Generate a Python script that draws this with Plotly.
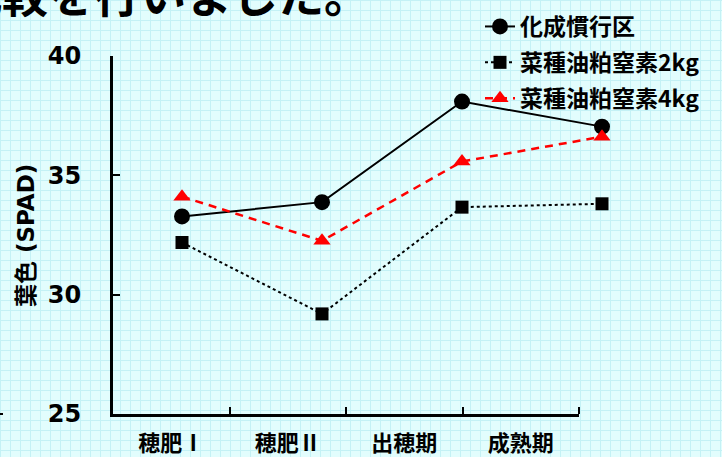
import plotly.graph_objects as go

W, H = 722, 457

stages = ["穂肥Ⅰ", "穂肥Ⅱ", "出穂期", "成熟期"]
conv = [33.27, 33.87, 38.08, 37.03]      # 化成慣行区
rape2 = [32.18, 29.19, 33.66, 33.80]     # 菜種油粕窒素2kg
rape4 = [34.10, 32.25, 35.57, 36.61]     # 菜種油粕窒素4kg
series_names = ["化成慣行区", "菜種油粕窒素2kg", "菜種油粕窒素4kg"]
y_ticks = [25, 30, 35, 40]

FONT = "Noto Sans CJK JP"

def px_x(p):
    return p / W

def px_y(p):
    return (H - p) / H

fig = go.Figure()
# invisible helper so the category-label axis is drawn
fig.add_trace(go.Scatter(x=[0, 4], y=[None, None], xaxis="x", yaxis="y",
                         mode="lines", showlegend=False, hoverinfo="skip"))
fig.add_trace(go.Scatter(
    x=stages, y=conv, name=series_names[0], xaxis="x2", yaxis="y",
    mode="lines+markers", legendgroup="a",
    line=dict(color="black", width=2),
    marker=dict(symbol="circle", size=16, color="black"),
    cliponaxis=False))
fig.add_trace(go.Scatter(
    x=stages, y=rape2, name=series_names[1], xaxis="x2", yaxis="y",
    mode="lines+markers", legendgroup="b",
    line=dict(color="black", width=2, dash="dot"),
    marker=dict(symbol="square", size=13, color="black"),
    cliponaxis=False))
fig.add_trace(go.Scatter(
    x=stages, y=rape4, name=series_names[2], xaxis="x2", yaxis="y",
    mode="lines+markers", legendgroup="c",
    line=dict(color="#ff0000", width=2.5, dash="8px,6px"),
    marker=dict(symbol="triangle-up", size=15, color="#ff0000"),
    cliponaxis=False))

# background graph-paper grid
shapes = []
for gx in range(0, W + 1, 10):
    shapes.append(dict(type="line", xref="paper", yref="paper", layer="below",
                       x0=px_x(gx + 0.5), x1=px_x(gx + 0.5), y0=0, y1=1,
                       line=dict(color="#c4f1f5", width=1)))
for gy in range(0, H + 1, 10):
    shapes.append(dict(type="line", xref="paper", yref="paper", layer="below",
                       x0=0, x1=1, y0=px_y(gy + 0.5), y1=px_y(gy + 0.5),
                       line=dict(color="#c4f1f5", width=1)))
# small stray dash at the left edge
shapes.append(dict(type="line", xref="paper", yref="paper",
                   x0=0, x1=px_x(3), y0=px_y(414), y1=px_y(414),
                   line=dict(color="black", width=2)))

fig.update_layout(
    width=W, height=H,
    margin=dict(l=0, r=0, t=0, b=0, autoexpand=False),
    paper_bgcolor="#e2fdfd",
    plot_bgcolor="rgba(0,0,0,0)",
    font=dict(family=FONT, color="black"),
    shapes=shapes,
    showlegend=True,
    legend=dict(x=px_x(480), y=px_y(5), xanchor="left", yanchor="top",
                bgcolor="rgba(0,0,0,0)", tracegroupgap=3,
                font=dict(family=FONT, size=23, weight="bold", color="black")),
    xaxis=dict(
        domain=[px_x(113), px_x(579)], anchor="y", automargin=False,
        range=[0, 4], tickmode="array",
        tickvals=[0.5, 1.5, 2.5, 3.5], ticktext=stages,
        ticks="", showgrid=False, zeroline=False,
        showline=True, linecolor="black", linewidth=3,
        ticklabelstandoff=8,
        tickfont=dict(family=FONT, size=22, weight="bold", color="black"),
        minor=dict(tickmode="array", tickvals=[1, 2, 3, 4], ticks="inside",
                   ticklen=7, tickwidth=2, tickcolor="black", showgrid=False),
        fixedrange=True),
    xaxis2=dict(
        domain=[px_x(112), px_x(672)], anchor="y", automargin=False,
        type="category", categoryorder="array", categoryarray=stages,
        range=[-0.5, 3.5], visible=False, fixedrange=True),
    yaxis=dict(
        domain=[px_y(414), px_y(55.7)], anchor="x", automargin=False,
        range=[25, 40], tickmode="array", tickvals=y_ticks,
        ticks="inside", ticklen=7, tickwidth=2, tickcolor="black",
        showgrid=False, zeroline=False,
        showline=True, linecolor="black", linewidth=3,
        ticklabelstandoff=24,
        tickfont=dict(family="DejaVu Sans", size=24, weight="bold", color="black"),
        fixedrange=True),
    annotations=[
        dict(text="葉色 (SPAD)", xref="paper", yref="paper",
             x=px_x(26), y=px_y(236), textangle=-90, showarrow=False,
             xanchor="center", yanchor="middle",
             font=dict(family="DejaVu Sans, Noto Sans CJK JP", size=23,
                       weight="bold", color="black")),
        dict(text="比較を行いました。", xref="paper", yref="paper",
             x=px_x(-46), y=px_y(-8), showarrow=False,
             xanchor="left", yanchor="middle",
             font=dict(family=FONT, size=46, weight="bold", color="black")),
    ],
)

fig.write_html("out.html")
